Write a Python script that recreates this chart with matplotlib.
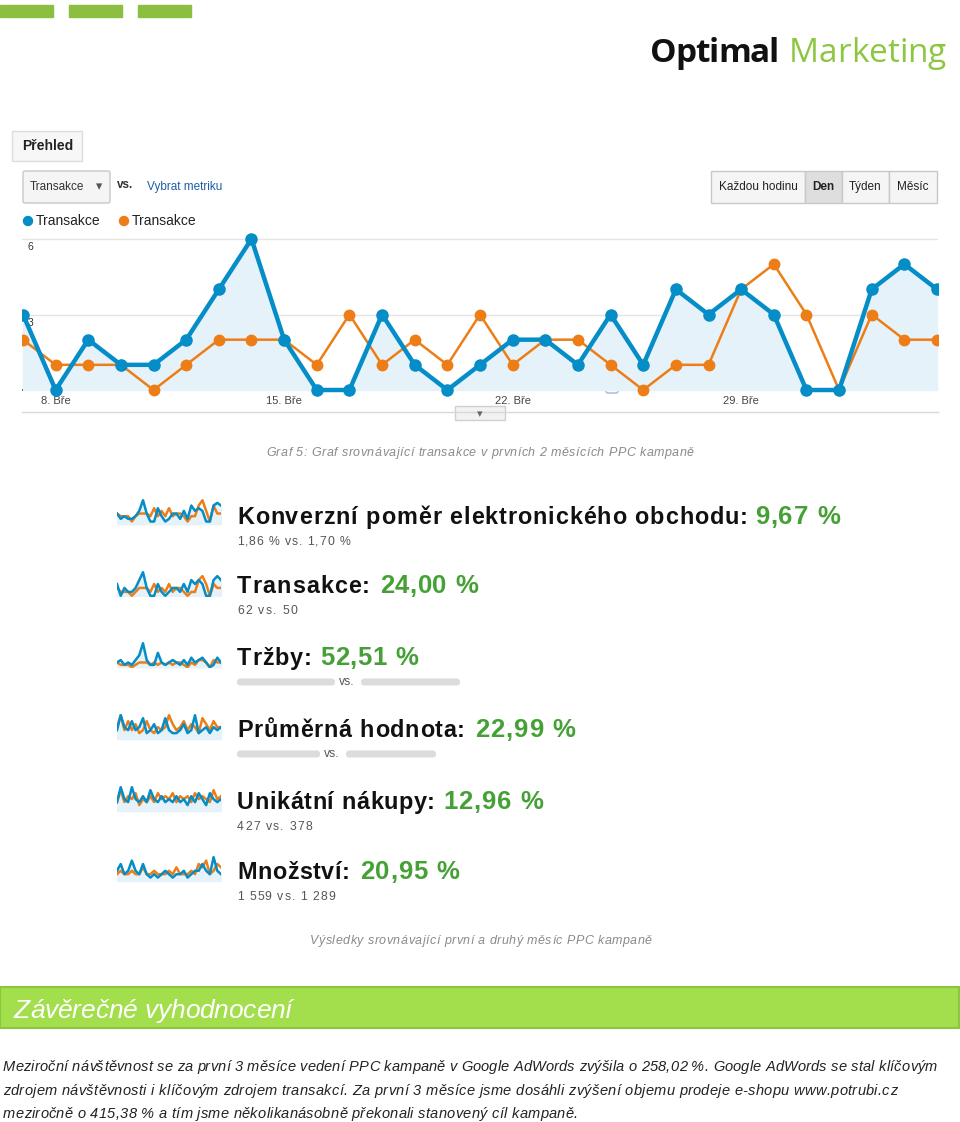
import matplotlib
matplotlib.use("Agg")
import matplotlib.pyplot as plt
from matplotlib.patches import Rectangle, Circle, FancyBboxPatch
from matplotlib.font_manager import FontProperties

W, H = 960, 1122

# main chart: daily transactions, two compared periods (29 days, 7. Bře .. 4. Dub)
days = list(range(29))
tick_days = [1, 8, 15, 22]
tick_labels = ["8. Bře", "15. Bře", "22. Bře", "29. Bře"]
trans_now = [3, 0, 2, 1, 1, 2, 4, 6, 2, 0, 0, 3, 1, 0, 1, 2, 2, 1, 3, 1, 4, 3, 4, 3, 0, 0, 4, 5, 4]
trans_prev = [2, 1, 1, 1, 0, 1, 2, 2, 2, 1, 3, 1, 2, 1, 3, 1, 2, 2, 1, 0, 1, 1, 4, 5, 3, 0, 3, 2, 2]
y_ticks = [3, 6]

# summary metrics
metric_names = ["Konverzní poměr elektronického obchodu:", "Transakce:", "Tržby:",
                "Průměrná hodnota:", "Unikátní nákupy:", "Množství:"]
metric_changes = ["9,67 %", "24,00 %", "52,51 %", "22,99 %", "12,96 %", "20,95 %"]
metric_subs = ["1,86 % vs. 1,70 %", "62 vs. 50", None, None, "427 vs. 378", "1 559 vs. 1 289"]

# sparklines (blue = current, orange = previous)
spark_blue = [
    [4, 2, 3, 2, 2, 3, 5, 9, 4, 1, 1, 6, 3, 1, 2, 4, 4, 2, 5, 2, 7, 5, 6, 5, 1, 1, 7, 8, 7],
    trans_now,
    [2, 3, 1, 2, 1, 3, 5, 10, 3, 1, 1, 6, 2, 1, 2, 3, 2, 1, 3, 1, 4, 2, 3, 4, 2, 0, 1, 4, 2],
    [3, 8, 4, 3, 6, 3, 4, 7, 2, 3, 5, 2, 3, 7, 3, 2, 2, 3, 5, 2, 3, 8, 2, 3, 4, 2, 4, 3, 4],
    [3, 8, 4, 3, 8, 4, 3, 5, 3, 7, 4, 3, 5, 3, 4, 3, 5, 3, 4, 2, 5, 3, 6, 4, 2, 6, 4, 3, 4],
    [3, 5, 2, 3, 6, 3, 2, 5, 2, 1, 2, 1, 2, 3, 2, 1, 2, 2, 3, 1, 2, 3, 3, 5, 3, 2, 7, 3, 2],
]
spark_orange = [
    [4, 3, 3, 3, 1, 3, 4, 4, 4, 3, 6, 3, 5, 3, 6, 3, 4, 4, 3, 1, 3, 3, 7, 9, 5, 1, 7, 4, 4],
    trans_prev,
    [2, 1, 1, 1, 0, 1, 2, 2, 2, 1, 2, 1, 2, 1, 2, 1, 2, 2, 1, 0, 2, 1, 3, 3, 2, 0, 3, 2, 2],
    [4, 8, 3, 6, 3, 5, 2, 3, 6, 3, 2, 4, 3, 4, 8, 5, 3, 4, 6, 3, 5, 4, 2, 7, 5, 3, 6, 4, 4],
    [3, 7, 3, 5, 4, 6, 2, 4, 3, 5, 3, 6, 4, 5, 4, 6, 3, 5, 4, 5, 3, 6, 4, 5, 4, 3, 7, 4, 5],
    [2, 3, 2, 2, 3, 2, 2, 4, 2, 2, 3, 2, 2, 2, 3, 2, 4, 2, 2, 2, 3, 2, 5, 4, 6, 2, 3, 5, 4],
]

buttons = ["Každou hodinu", "Den", "Týden", "Měsíc"]

para = [
    "Meziroční návštěvnost se za první 3 měsíce vedení PPC kampaně v Google AdWords zvýšila o 258,02 %. Google AdWords se stal klíčovým",
    "zdrojem návštěvnosti i klíčovým zdrojem transakcí. Za první 3 měsíce jsme dosáhli zvýšení objemu prodeje e-shopu www.potrubi.cz",
    "meziročně o 415,38 % a tím jsme několikanásobně překonali stanovený cíl kampaně.",
]

BLUE = "#058dc7"
ORANGE = "#ed7e17"
GREEN = "#45a035"
LIME = "#8dc63f"

plt.rcParams["font.family"] = ["Liberation Sans", "DejaVu Sans"]

fig = plt.figure(figsize=(W / 100, H / 100), dpi=100)
fig.patch.set_facecolor("white")


def ax_at(x0, y0, x1, y1):
    return fig.add_axes([x0 / W, 1 - y1 / H, (x1 - x0) / W, (y1 - y0) / H])


bg = fig.add_axes([0, 0, 1, 1])
bg.set_xlim(0, W)
bg.set_ylim(H, 0)
bg.axis("off")
fig.canvas.draw()
rend = fig.canvas.get_renderer()


def char_w(ch, fp):
    if ch == " ":
        a = rend.get_text_width_height_descent("a a", fp, ismath=False)[0]
        b = rend.get_text_width_height_descent("aa", fp, ismath=False)[0]
        return a - b
    return rend.get_text_width_height_descent(ch, fp, ismath=False)[0]


def spaced(x0, x1, yc, s, fp, color):
    # letter-spaced text squeezed/stretched to run from x0 to x1
    ws = [char_w(c, fp) for c in s]
    gap = (x1 - x0 - sum(ws)) / max(len(s) - 1, 1)
    yb = yc + 0.36 * fp.get_size_in_points() * 100 / 72
    x = x0
    for c, w in zip(s, ws):
        if c != " ":
            bg.text(x, yb, c, fontproperties=fp, color=color, va="baseline", ha="left")
        x += w + gap


# header
for x0 in (0, 69, 138):
    bg.add_patch(Rectangle((x0, 5), 53, 12, color="#8cbf3f"))
logo_b = FontProperties(family=["Open Sans", "DejaVu Sans"], size=24, weight="bold")
logo_r = FontProperties(family=["Open Sans", "DejaVu Sans"], size=24)
spaced(650, 779, 50, "Optimal", logo_b, "#111111")
spaced(789, 946, 50, "Marketing", logo_r, LIME)

# tab + controls
bg.add_patch(Rectangle((12, 131), 70, 30, facecolor="#f7f7f7", edgecolor="#dddddd", lw=1))
bg.text(22, 146, "Přehled", fontsize=10, fontweight="bold", color="#222222", va="center")
bg.add_patch(FancyBboxPatch((23, 171), 87, 32, boxstyle="round,pad=0,rounding_size=2",
                            facecolor="#f5f5f5", edgecolor="#c8c8c8", lw=1))
bg.text(30, 187, "Transakce", fontsize=8.5, color="#333333", va="center")
bg.text(99, 187, "▾", fontsize=9, color="#555555", va="center", ha="center")
bg.text(117, 185, "vs.", fontsize=8.5, fontweight="bold", color="#333333", va="center")
bg.text(147, 187, "Vybrat metriku", fontsize=8.5, color="#1c5fa5", va="center")

bx = [711, 805, 842, 889, 937]
for i, lab in enumerate(buttons):
    fc = "#dedede" if lab == "Den" else "#f5f5f5"
    bg.add_patch(Rectangle((bx[i], 171), bx[i + 1] - bx[i], 32, facecolor=fc,
                           edgecolor="#c8c8c8", lw=1))
    bg.text((bx[i] + bx[i + 1]) / 2, 187, lab, fontsize=8.5, color="#222222",
            fontweight="bold" if lab == "Den" else "normal", va="center", ha="center")

# legend
bg.add_patch(Circle((28, 221), 4.5, color=BLUE))
bg.text(36, 221, "Transakce", fontsize=10, color="#222222", va="center")
bg.add_patch(Circle((124, 221), 4.5, color=ORANGE))
bg.text(132, 221, "Transakce", fontsize=10, color="#222222", va="center")

# main chart
unit = (390 - 239) / 6.0
ax = ax_at(22, 239 - unit * 0.9, 938, 390 + unit * 0.5)
ax.set_xlim(-0.03, 28.03)
ax.set_ylim(-0.5, 6.9)
ax.axis("off")
for v in y_ticks:
    ax.axhline(v, color="#e4e4e4", lw=1, zorder=0)
    ax.text(0.15, v - 0.12, str(v), fontsize=7.5, color="#333333", va="top", ha="left")
ax.axhline(0, color="#333333", lw=1.2, zorder=1)
ax.fill_between(days, trans_now, 0, color="#e6f2f9", zorder=1)
ax.plot(days, trans_prev, color=ORANGE, lw=1.8, marker="o", ms=7.5, zorder=3)
ax.plot(days, trans_now, color=BLUE, lw=3.2, marker="o", ms=8, zorder=4)
for d, lab in zip(tick_days, tick_labels):
    ax.text(d, -0.25, lab, fontsize=8, color="#444444", ha="center", va="top")

bg.plot([22, 938], [412, 412], color="#d8d8d8", lw=1)
bg.add_patch(Rectangle((455, 406), 50, 14, facecolor="#f2f2f2", edgecolor="#d0d0d0", lw=1))
bg.text(480, 414, "▾", fontsize=8, color="#666666", ha="center", va="center")
bg.add_patch(FancyBboxPatch((606, 385), 12, 8, boxstyle="round,pad=0,rounding_size=2",
                            facecolor="white", edgecolor="#8aa8c8", lw=0.8))

cap_fp = FontProperties(family=["Liberation Sans Narrow", "Liberation Sans"], size=9, style="italic")
spaced(266, 694, 451, "Graf 5: Graf srovnávající transakce v prvních 2 měsících PPC kampaně",
       cap_fp, "#8a8a8a")

# summary rows
row_y = [516, 585, 657, 729, 801, 871]
spark_y = [512, 584, 655, 727, 799, 869]
name_end = [748, 370, 312, 465, 435, 350]
val_span = [(755, 840), (380, 478), (320, 418), (475, 575), (443, 543), (360, 459)]
sub_end = [350, 297, None, None, 312, 335]
head_fp = FontProperties(family=["Liberation Sans", "DejaVu Sans"], size=16.8, weight="bold")
val_fp = FontProperties(family=["Liberation Sans", "DejaVu Sans"], size=18.5, weight="bold")
sub_fp = FontProperties(family=["Liberation Sans", "DejaVu Sans"], size=8.8)
for i, name in enumerate(metric_names):
    y = row_y[i]
    spaced(237, name_end[i], y, name, head_fp, "#111111")
    spaced(val_span[i][0], val_span[i][1], y - 1, metric_changes[i], val_fp, GREEN)
    sy = y + 25
    if metric_subs[i] is not None:
        spaced(237, sub_end[i], sy, metric_subs[i], sub_fp, "#555555")
    else:
        w1, w2 = (98, 99) if i == 2 else (83, 90)
        bg.add_patch(FancyBboxPatch((237, sy - 3.5), w1, 7, boxstyle="round,pad=0,rounding_size=3",
                                    color="#d4d4d4", alpha=0.8, lw=0))
        bg.text(237 + w1 + 4, sy, "vs.", fontsize=8.8, color="#555555", va="center")
        bg.add_patch(FancyBboxPatch((237 + w1 + 26, sy - 3.5), w2, 7,
                                    boxstyle="round,pad=0,rounding_size=3",
                                    color="#d4d4d4", alpha=0.8, lw=0))

    sa = ax_at(117, spark_y[i] - 13, 221, spark_y[i] + 13)
    sa.axis("off")
    sa.set_xlim(0, 28)
    top = max(max(spark_blue[i]), max(spark_orange[i]))
    sa.set_ylim(-0.3, top * 1.05)
    sa.fill_between(days, spark_blue[i], 0, color="#e6f2f9")
    sa.plot(days, spark_orange[i], color=ORANGE, lw=1.8)
    sa.plot(days, spark_blue[i], color=BLUE, lw=1.8)

spaced(310, 652, 939, "Výsledky srovnávající první a druhý měsíc PPC kampaně", cap_fp, "#8a8a8a")

# banner
bg.add_patch(Rectangle((0, 987), 959, 41, facecolor="#a3de4c", edgecolor="#8cc63f", lw=1.5))
ban_fp = FontProperties(family=["Liberation Sans Narrow", "Liberation Sans"], size=19, style="italic")
spaced(14, 292, 1008, "Závěrečné vyhodnocení", ban_fp, "white")

para_fp = FontProperties(family=["Liberation Sans Narrow", "Liberation Sans"], size=10.5, style="italic")
para_end = [937, 897, 578]
for k, line in enumerate(para):
    spaced(3, para_end[k], 1066 + k * 23.5, line, para_fp, "#222222")

fig.savefig("out.png", dpi=100, facecolor="white")
